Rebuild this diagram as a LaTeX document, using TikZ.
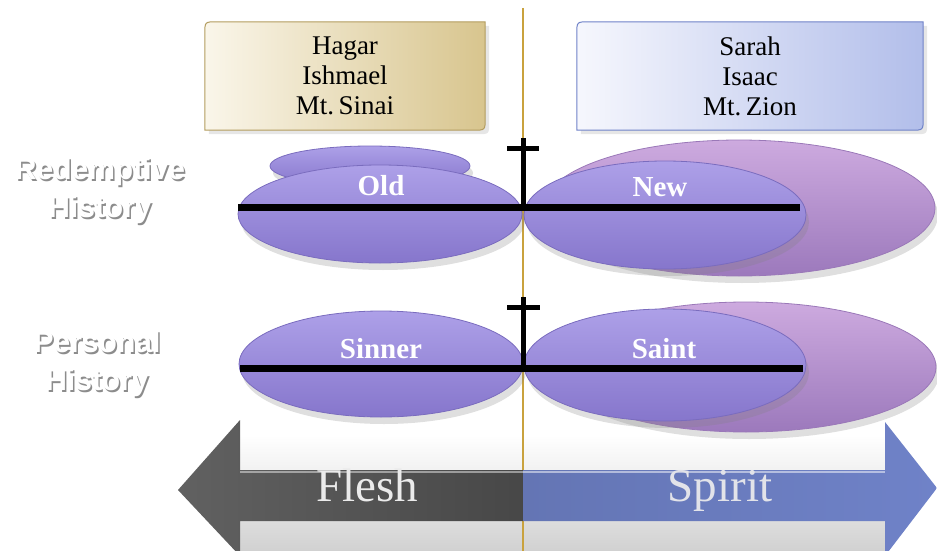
\documentclass[tikz,border=0pt]{standalone}
\usepackage{fontspec}
\setmainfont{Liberation Serif}
\newfontfamily\labfont{Liberation Sans}
\usetikzlibrary{shapes.geometric,shadows}
\pgfdeclarelayer{bg}
\pgfsetlayers{bg,main}
\definecolor{gold}{HTML}{C9A23E}
\definecolor{tanL}{HTML}{FAF6EA}
\definecolor{tanR}{HTML}{D8C58E}
\definecolor{tanB}{HTML}{B39C5E}
\definecolor{bluL}{HTML}{F6F7FD}
\definecolor{bluR}{HTML}{B2BEEA}
\definecolor{bluB}{HTML}{6F82C8}
\definecolor{purT}{HTML}{ADA0E8}
\definecolor{purB}{HTML}{8676CC}
\definecolor{purD}{HTML}{7A6CBE}
\definecolor{pnkT}{HTML}{CDAADF}
\definecolor{pnkB}{HTML}{9C79BC}
\definecolor{pnkD}{HTML}{9A78B8}
\tikzset{
  boxtext/.style={align=center, font=\fontsize{27}{30}\selectfont, inner sep=0pt},
  front/.style={ellipse, inner sep=0pt, top color=purT, bottom color=purB, draw=purD, line width=0.8pt,
    drop shadow={opacity=0.25, shadow xshift=3pt, shadow yshift=-7pt}},
  back/.style={ellipse, inner sep=0pt, top color=pnkT, bottom color=pnkB, draw=pnkD, line width=0.8pt,
    drop shadow={opacity=0.25, shadow xshift=3pt, shadow yshift=-7pt}},
  ovaltext/.style={text=white, font=\bfseries\fontsize{29}{32}\selectfont, inner sep=0pt},
  bar/.style={line width=7pt, black},
  crossline/.style={line width=5pt, black},
  sidelab/.style={align=center, font=\labfont\bfseries\fontsize{30}{38}\selectfont, inner sep=0pt},
  arrowtext/.style={font=\fontsize{47}{50}\selectfont, inner sep=0pt, anchor=base}
}
\begin{document}
\begin{tikzpicture}[x=1pt,y=-1pt]
\useasboundingbox (0,0) rectangle (937,551);
% background band behind arrows
\shade[top color=white, bottom color=black!18] (240,435) rectangle (885,551);
% golden divider
\coordinate (gtop) at (523,8);
\coordinate (gbot) at (523,551);
\draw[gold, line width=2pt] (gtop) -- (gbot);

% top boxes
\node[boxtext, minimum width=280pt, minimum height=108pt] (hbox) at (345,76) {Hagar\\Ishmael\\Mt.\,Sinai};
\node[boxtext, minimum width=346pt, minimum height=108pt] (sbox) at (750,76) {Sarah\\Isaac\\Mt.\,Zion};
\begin{pgfonlayer}{bg}
\path[draw=tanB, line width=1pt, left color=tanL, right color=tanR,
  drop shadow={opacity=0.2, shadow xshift=4pt, shadow yshift=-4pt}]
  (hbox.south west) -- ([yshift=-12pt]hbox.north west) .. controls (hbox.north west) .. ([xshift=12pt]hbox.north west)
  -- (hbox.north east) -- ([yshift=12pt]hbox.south east) .. controls (hbox.south east) .. ([xshift=-12pt]hbox.south east) -- cycle;
\path[draw=bluB, line width=1pt, left color=bluL, right color=bluR,
  drop shadow={opacity=0.2, shadow xshift=4pt, shadow yshift=-4pt}]
  (sbox.south west) -- ([yshift=-12pt]sbox.north west) .. controls (sbox.north west) .. ([xshift=12pt]sbox.north west)
  -- (sbox.north east) -- ([yshift=12pt]sbox.south east) .. controls (sbox.south east) .. ([xshift=-12pt]sbox.south east) -- cycle;
\end{pgfonlayer}

% redemptive history row
\node[back, minimum width=392pt, minimum height=136pt] (newback) at (739,208) {};
\node[front, minimum width=200pt, minimum height=40pt] (oldback) at (370,166) {};
\node[front, minimum width=284pt, minimum height=98pt] (old) at (380,214) {};
\node[front, minimum width=282pt, minimum height=108pt] (new) at (665,215) {};
\coordinate (r1a) at (238,207);
\coordinate (r1b) at (800,207);
\draw[bar] (r1a) -- (r1b);
\coordinate (c1top) at (523,138);
\coordinate (c1bot) at (523,207);
\coordinate (c1l) at (507,148);
\coordinate (c1r) at (539,148);
\draw[crossline] (c1top) -- (c1bot);
\draw[crossline] (c1l) -- (c1r);
\node[ovaltext] (oldt) at (381,186) {Old};
\node[ovaltext] (newt) at (660,187) {New};

% personal history row
\node[back, minimum width=380pt, minimum height=130pt] (saintback) at (746,367) {};
\node[front, minimum width=284pt, minimum height=106pt] (sinner) at (381,364) {};
\node[front, minimum width=282pt, minimum height=112pt] (saint) at (665,365) {};
\coordinate (r2a) at (240,368);
\coordinate (r2b) at (803,368);
\draw[bar] (r2a) -- (r2b);
\coordinate (c2top) at (523,297);
\coordinate (c2bot) at (523,368);
\coordinate (c2l) at (507,307);
\coordinate (c2r) at (540,307);
\draw[crossline] (c2top) -- (c2bot);
\draw[crossline] (c2l) -- (c2r);
\node[ovaltext] (sinnert) at (381,349) {Sinner};
\node[ovaltext] (saintt) at (664,349) {Saint};

% side labels
\node[sidelab, text=black!45] at (101.5,192.5) {Redemptive\\History};
\node[sidelab, text=white] (redlab) at (100,191) {Redemptive\\History};
\node[sidelab, text=black!45] at (98.5,365.5) {Personal\\History};
\node[sidelab, text=white] (perlab) at (97,364) {Personal\\History};

% bottom arrows
\coordinate (fl) at (178,490);
\coordinate (sp) at (937,488);
\path[left color=black!62, middle color=black!38, right color=black!72]
  (523,470) -- (240,470) -- (240,420) -- (fl) -- (240,556) -- (240,521) -- (523,521) -- cycle;
\draw[white, line width=1.2pt, opacity=0.45] (240,472) -- (523,472);
\path[left color=bluB!90!black, middle color=bluR!85!bluB, right color=bluB]
  (523,470) -- (885,470) -- (885,422) -- (sp) -- (885,556) -- (885,521) -- (523,521) -- cycle;
\draw[white, line width=1.2pt, opacity=0.5] (523,472) -- (885,472);
\node[arrowtext, text=black!8] (flesh) at (367,501) {Flesh};
\node[arrowtext, text=bluL!92!black] (spirit) at (720,501) {Spirit};
\end{tikzpicture}
\end{document}
